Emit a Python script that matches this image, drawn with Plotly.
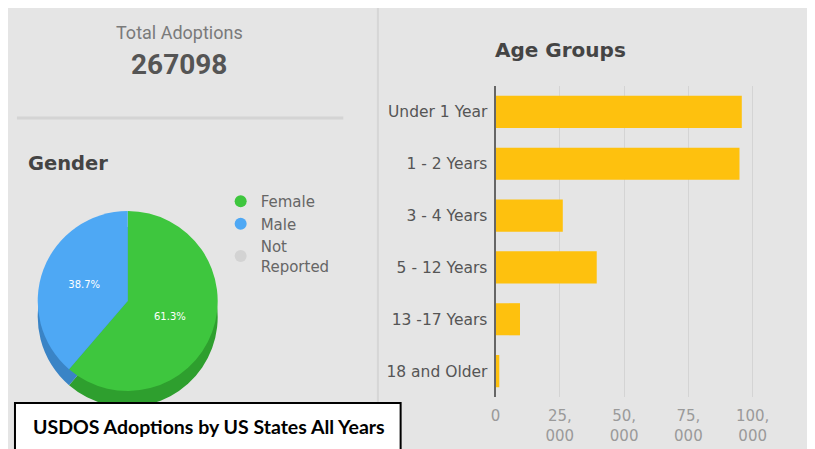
import plotly.graph_objects as go

# ---- data ----
total_adoptions = 267098
gender_labels = ["Female", "Male", "Not Reported"]
gender_share = [61.3, 38.7, 0.0]
age_groups = ["Under 1 Year", "1 - 2 Years", "3 - 4 Years", "5 - 12 Years", "13 -17 Years", "18 and Older"]
age_counts = [95770, 94880, 26150, 39350, 9500, 1448]
x_tick_vals = [0, 25000, 50000, 75000, 100000]
x_tick_text = ["0", "25,<br>000", "50,<br>000", "75,<br>000", "100,<br>000"]

# page has an 8px body margin: the figure starts at (8, 8)
OFF = 8
W, H = 815 - OFF, 449 - OFF
BG = "#e5e5e5"
top_colors = ["#3ec63e", "#4ea8f4", "#cccccc"]
side_colors = ["#2e9f2e", "#3a84c6", "#aaaaaa"]
legend_colors = ["#3ec63e", "#4ea8f4", "#d3d3d3"]
legend_names = ["Female", "Male", "Not<br>Reported"]


def px_x(x):
    return (x - OFF) / W


def px_y(y):
    return 1 - (y - OFF) / H


fig = go.Figure()

# pie: 3D look with a darker shadow pie shifted down
D = 182
cx, cy = 124, 301
depth = 16
fig.add_trace(go.Pie(
    labels=gender_labels, values=gender_share, sort=False, direction="clockwise",
    rotation=0, marker=dict(colors=side_colors, line=dict(width=0)),
    textinfo="none", showlegend=False, hoverinfo="skip",
    domain=dict(x=[px_x(cx - D / 2), px_x(cx + D / 2)],
                y=[px_y(cy + depth + D / 2), px_y(cy + depth - D / 2)]),
))
fig.add_trace(go.Pie(
    labels=gender_labels, values=gender_share, sort=False, direction="clockwise",
    rotation=0, marker=dict(colors=top_colors, line=dict(width=0)),
    texttemplate="%{percent:.1%}", textposition="inside",
    insidetextfont=dict(color="white", size=10, family="DejaVu Sans"),
    showlegend=False,
    domain=dict(x=[px_x(cx - D / 2), px_x(cx + D / 2)],
                y=[px_y(cy + D / 2), px_y(cy - D / 2)]),
))

# legend entries with circle symbols
for name, col in zip(legend_names, legend_colors):
    fig.add_trace(go.Scatter(
        x=[None], y=[None], mode="markers", name=name,
        marker=dict(color=col, size=12, symbol="circle"),
        xaxis="x2", yaxis="y2",
    ))

# bar chart
fig.add_trace(go.Bar(
    x=age_counts, y=age_groups, orientation="h",
    marker=dict(color="#fec10e", line=dict(width=0)),
    showlegend=False, xaxis="x", yaxis="y",
))

fig.update_layout(
    width=W, height=H,
    margin=dict(l=0, r=0, t=0, b=0),
    paper_bgcolor=BG, plot_bgcolor="rgba(0,0,0,0)",
    bargap=0.38,
    xaxis=dict(
        domain=[px_x(496), px_x(769)], range=[0, 105000],
        tickvals=x_tick_vals, ticktext=x_tick_text,
        showgrid=True, gridcolor="#d4d4d4", gridwidth=1,
        zeroline=False, showline=False,
        ticks="outside", ticklen=5, tickcolor="rgba(0,0,0,0)",
        tickfont=dict(family="DejaVu Sans", size=15, color="#9a9a9a"),
        fixedrange=True,
    ),
    yaxis=dict(
        domain=[px_y(397), px_y(86)], autorange="reversed",
        type="category", showgrid=False, zeroline=False,
        showline=True, linecolor="#666666", linewidth=2,
        ticks="outside", ticklen=3, tickcolor="rgba(0,0,0,0)",
        tickfont=dict(family="DejaVu Sans", size=15.5, color="#555555"),
        fixedrange=True,
    ),
    xaxis2=dict(visible=False, domain=[0, 0.01], anchor="y2"),
    yaxis2=dict(visible=False, domain=[0, 0.01], anchor="x2"),
    legend=dict(
        x=px_x(218), y=px_y(185), xanchor="left", yanchor="top",
        bgcolor="rgba(0,0,0,0)", borderwidth=0,
        font=dict(family="DejaVu Sans", size=15, color="#666666"),
        itemwidth=30, tracegroupgap=0,
    ),
    shapes=[
        # vertical divider
        dict(type="line", xref="paper", yref="paper", layer="below",
             x0=px_x(377), x1=px_x(377), y0=0, y1=1,
             line=dict(color="#d6d6d6", width=2)),
        # horizontal divider
        dict(type="line", xref="paper", yref="paper", layer="below",
             x0=px_x(12), x1=px_x(342), y0=px_y(118), y1=px_y(118),
             line=dict(color="#d4d4d4", width=3)),
        # caption box
        dict(type="rect", xref="paper", yref="paper", layer="above",
             x0=px_x(10), x1=px_x(400), y0=px_y(452), y1=px_y(403),
             fillcolor="white", line=dict(color="black", width=2)),
    ],
    annotations=[
        dict(text="Total Adoptions", x=px_x(176), y=px_y(33), xref="paper", yref="paper",
             showarrow=False, xanchor="center", yanchor="middle",
             font=dict(family="Roboto", size=18, color="#7a7a7a")),
        dict(text=f"<b>{total_adoptions}</b>", x=px_x(176), y=px_y(64), xref="paper", yref="paper",
             showarrow=False, xanchor="center", yanchor="middle",
             font=dict(family="Roboto", size=28, color="#555555")),
        dict(text="<b>Gender</b>", x=px_x(21), y=px_y(163), xref="paper", yref="paper",
             showarrow=False, xanchor="left", yanchor="middle",
             font=dict(family="DejaVu Sans", size=19.5, color="#444444")),
        dict(text="<b>Age Groups</b>", x=px_x(493), y=px_y(50), xref="paper", yref="paper",
             showarrow=False, xanchor="left", yanchor="middle",
             font=dict(family="DejaVu Sans", size=20, color="#444444")),
        dict(text="<b>USDOS Adoptions by US States All Years</b>", x=px_x(206), y=px_y(426),
             xref="paper", yref="paper", showarrow=False, xanchor="center", yanchor="middle",
             font=dict(family="Lato", size=19.5, color="black")),
    ],
)

fig.write_html("out.html")
